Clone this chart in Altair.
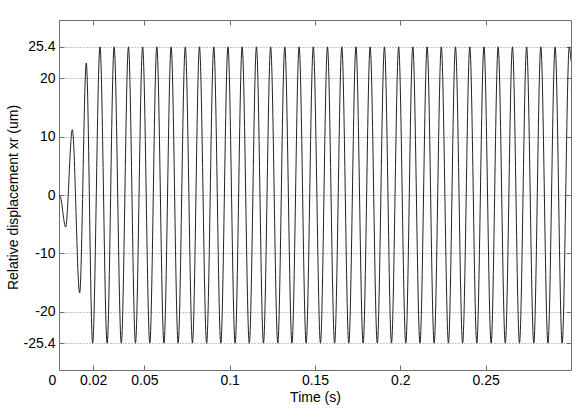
import altair as alt
import pandas as pd

# Extremum points of the displacement trace (time in s, displacement in um)
ext_t = [0.0000, 0.0008, 0.0039, 0.0078, 0.0121, 0.0160, 0.0197,
         0.0240, 0.0282, 0.0323, 0.0365, 0.0407, 0.0448, 0.0490, 0.0532,
         0.0573, 0.0615, 0.0657, 0.0698, 0.0740, 0.0782, 0.0823, 0.0865,
         0.0907, 0.0948, 0.0990, 0.1032, 0.1073, 0.1115, 0.1157, 0.1198,
         0.1240, 0.1282, 0.1323, 0.1365, 0.1407, 0.1448, 0.1490, 0.1532,
         0.1573, 0.1615, 0.1657, 0.1698, 0.1740, 0.1782, 0.1823, 0.1865,
         0.1907, 0.1948, 0.1990, 0.2032, 0.2073, 0.2115, 0.2157, 0.2198,
         0.2240, 0.2282, 0.2323, 0.2365, 0.2407, 0.2448, 0.2490, 0.2532,
         0.2573, 0.2615, 0.2657, 0.2698, 0.2740, 0.2782, 0.2823, 0.2865,
         0.2907, 0.2948, 0.2990, 0.3000]
ext_v = [0.0, -0.3, -5.5, 11.2, -16.8, 22.6, -25.4,
         25.4, -25.4, 25.4, -25.4, 25.4, -25.4, 25.4, -25.4,
         25.4, -25.4, 25.4, -25.4, 25.4, -25.4, 25.4, -25.4,
         25.4, -25.4, 25.4, -25.4, 25.4, -25.4, 25.4, -25.4,
         25.4, -25.4, 25.4, -25.4, 25.4, -25.4, 25.4, -25.4,
         25.4, -25.4, 25.4, -25.4, 25.4, -25.4, 25.4, -25.4,
         25.4, -25.4, 25.4, -25.4, 25.4, -25.4, 25.4, -25.4,
         25.4, -25.4, 25.4, -25.4, 25.4, -25.4, 25.4, -25.4,
         25.4, -25.4, 25.4, -25.4, 25.4, -25.4, 25.4, -25.4,
         25.4, -25.4, 25.4, 23.0]

x_ticks = [0, 0.02, 0.05, 0.1, 0.15, 0.2, 0.25]
y_ticks = [-25.4, -20, -10, 0, 10, 20, 25.4]

df = pd.DataFrame({"t": ext_t, "v": ext_v})

FONT = "Liberation Sans"
FRAME = "#707070"

xs = alt.Scale(domain=[0, 0.3], nice=False, zero=False)
ys = alt.Scale(domain=[-30, 30], nice=False, zero=False)

common = dict(tickSize=5, tickColor=FRAME, tickWidth=1, domain=False, offset=-5,
              labelFont=FONT, labelFontSize=14, labelColor="#000",
              titleFont=FONT, titleFontSize=14, titleColor="#000",
              titleFontWeight="normal", labelExpr="datum.value")

line = alt.Chart(df).mark_line(color="#222222", strokeWidth=1,
                               interpolate="monotone", clip=True).encode(
    x=alt.X("t:Q", scale=xs,
            axis=alt.Axis(orient="bottom", values=x_ticks, title="Time (s)",
                          grid=False, labelPadding=3,
                          labelAlign={"condition": {"test": "datum.value == 0", "value": "center"}, "value": "center"},
                          labelOffset={"condition": {"test": "datum.value == 0", "value": -7}, "value": 0},
                          titleX=256, titleY=32, titleBaseline="middle",
                          titleAlign="center", **common)),
    y=alt.Y("v:Q", scale=ys,
            axis=alt.Axis(orient="left", values=y_ticks,
                          title="Relative displacement xr (um)",
                          grid=True, gridColor="#8a8a8a", gridDash=[1, 2],
                          gridWidth=1, labelPadding=4,
                          titleX=-51, titleY=177, titleAngle=270,
                          titleBaseline="middle", titleAlign="center",
                          **common)),
)

ticks2 = alt.Chart(df).mark_line(opacity=0).encode(
    x=alt.X("t:Q", scale=xs,
            axis=alt.Axis(orient="top", values=x_ticks, title="", labels=False,
                          grid=False, tickSize=5, tickColor=FRAME,
                          domain=False, offset=-5)),
    y=alt.Y("v:Q", scale=ys,
            axis=alt.Axis(orient="right", values=y_ticks, title="", labels=False,
                          grid=False, tickSize=5, tickColor=FRAME,
                          domain=False, offset=-5)),
)

chart = alt.layer(line, ticks2).resolve_axis(
    x="independent", y="independent"
).properties(
    width=512, height=350,
    autosize=alt.AutoSizeParams(type="none"),
    padding={"left": 59, "top": 20, "right": 8, "bottom": 45},
    background="white",
).configure_view(stroke=FRAME, strokeWidth=1)

chart.save("out.html", embed_options={"renderer": "svg", "actions": False})
